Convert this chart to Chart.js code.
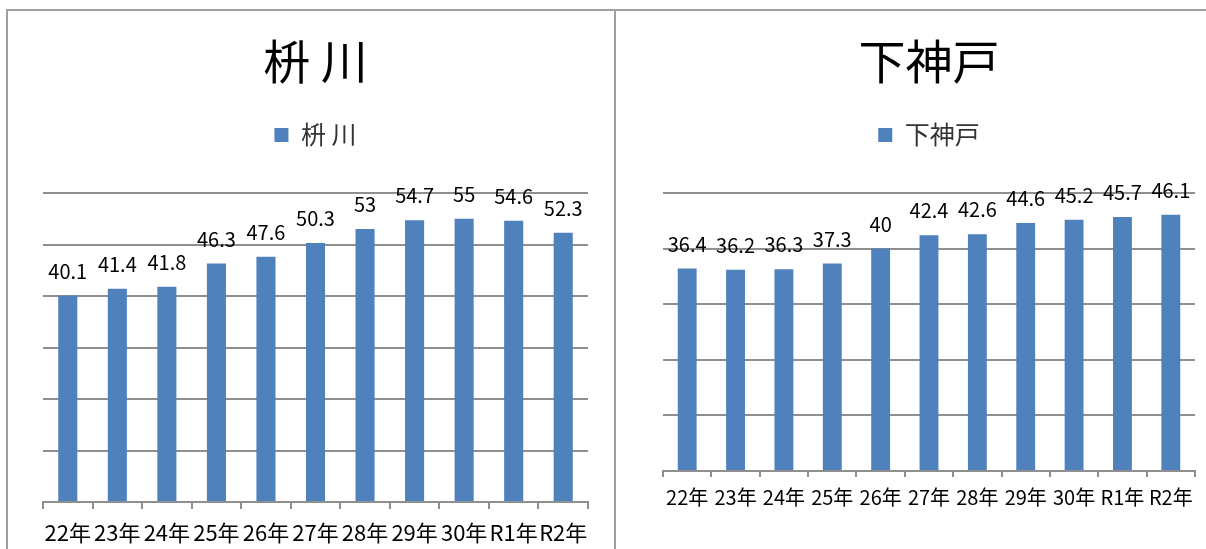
<!DOCTYPE html>
<html><head><meta charset="utf-8">
<script src="https://cdn.jsdelivr.net/npm/chart.js@4.4.0/dist/chart.umd.min.js"></script>
<style>
html,body{margin:0;padding:0;background:#fff;width:1206px;height:549px;overflow:hidden;position:relative}
.ln{position:absolute;background:#9f9f9f}
canvas{position:absolute}
</style></head><body>
<div class="ln" style="left:6px;top:9px;width:1200px;height:2px"></div>
<div class="ln" style="left:6px;top:9px;width:2px;height:540px"></div>
<div class="ln" style="left:614px;top:9px;width:2px;height:540px"></div>
<canvas id="c1" width="606" height="546" style="left:8px;top:11px;width:606px;height:546px"></canvas>
<canvas id="c2" width="590" height="538" style="left:616px;top:11px;width:590px;height:538px"></canvas>
<script>
const categories = ['22年','23年','24年','25年','26年','27年','28年','29年','30年','R1年','R2年'];
const masukawaName = '枡 川';
const masukawaValues = [40.1, 41.4, 41.8, 46.3, 47.6, 50.3, 53, 54.7, 55, 54.6, 52.3];
const shimokanbeName = '下神戸';
const shimokanbeValues = [36.4, 36.2, 36.3, 37.3, 40, 42.4, 42.6, 44.6, 45.2, 45.7, 46.1];
const masukawaAxis = [0, 60, 10];   // min, max, step
const shimokanbeAxis = [0, 50, 10];

const FONT = '"Noto Sans CJK JP", "Noto Sans", sans-serif';
const BAR = '#4F81BD';
const GRID = '#8f8f8f';

const valueLabels = {
  id: 'valueLabels',
  afterDatasetsDraw(chart, args, opts) {
    const ctx = chart.ctx;
    ctx.save();
    ctx.font = opts.size + 'px ' + FONT;
    ctx.fillStyle = '#000';
    ctx.textAlign = 'center';
    ctx.textBaseline = 'middle';
    const ds = chart.data.datasets[0];
    chart.getDatasetMeta(0).data.forEach((bar, i) => {
      ctx.fillText(String(ds.data[i]), bar.x, bar.y - opts.offset);
    });
    ctx.restore();
  }
};
const legendSpacer = {
  id: 'legendSpacer',
  beforeInit(chart) {
    const fit = chart.legend.fit;
    const extra = chart.options.plugins.legendSpacer.extra;
    chart.legend.fit = function () { fit.call(this); this.height += extra; };
  }
};

function makeChart(id, name, values, axis, o) {
  return new Chart(document.getElementById(id), {
    type: 'bar',
    data: {
      labels: categories,
      datasets: [{
        label: name,
        data: values,
        backgroundColor: BAR,
        borderWidth: 0,
        categoryPercentage: 1,
        barPercentage: o.barPct
      }]
    },
    plugins: [valueLabels, legendSpacer],
    options: {
      responsive: false,
      animation: false,
      devicePixelRatio: 1,
      layout: { padding: { left: o.padL, right: o.padR, top: 0, bottom: o.padB } },
      plugins: {
        tooltip: { enabled: false },
        title: {
          display: true, text: name, color: '#000',
          font: { family: FONT, size: 47, weight: 'normal' },
          padding: { top: 22, bottom: 23 }
        },
        legend: {
          display: true,
          labels: {
            color: '#333', boxWidth: 14, boxHeight: 14, padding: 10,
            font: { family: FONT, size: 25, weight: 'normal' }
          }
        },
        legendSpacer: { extra: 35.6 },
        valueLabels: { size: 20, offset: 24.5 }
      },
      scales: {
        x: {
          grid: { display: true, drawOnChartArea: false, drawTicks: true, tickLength: o.tick, color: GRID, lineWidth: 2 },
          border: { display: true, color: GRID, width: 2 },
          ticks: { color: '#000', padding: o.tickPad, font: { family: FONT, size: o.xFont }, maxRotation: 0, autoSkip: false }
        },
        y: {
          min: axis[0], max: axis[1],
          ticks: { display: false, stepSize: axis[2] },
          grid: { color: GRID, lineWidth: 2, drawTicks: false },
          border: { display: false }
        }
      }
    }
  });
}

makeChart('c1', masukawaName, masukawaValues, masukawaAxis,
  { padL: 35, padR: 26, padB: 0, tick: 7, tickPad: 10.8, xFont: 22, barPct: 0.385 });
makeChart('c2', shimokanbeName, shimokanbeValues, shimokanbeAxis,
  { padL: 47, padR: 11, padB: 32, tick: 6, tickPad: 8, xFont: 20, barPct: 0.39 });
</script>
</body></html>
